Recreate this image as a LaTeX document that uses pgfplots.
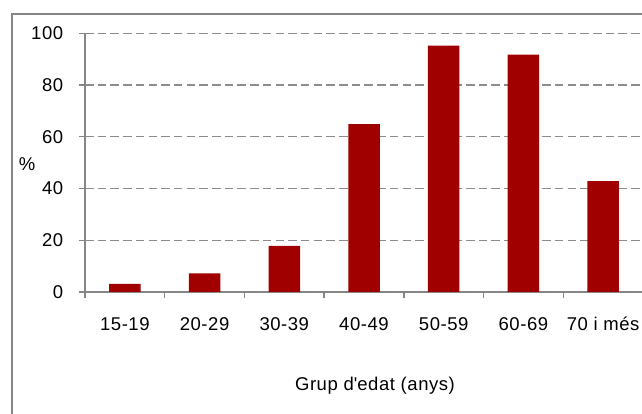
\documentclass[border=0pt]{standalone}
\usepackage{fontspec}
\setmainfont[LetterSpace=3]{Liberation Sans}
\usepackage{pgfplots}
\pgfplotsset{compat=1.18}

\definecolor{barred}{HTML}{A00000}
\definecolor{axgray}{HTML}{868686}
\definecolor{gridgray}{HTML}{8C8C8C}

\begin{document}
\begin{tikzpicture}[x=1pt,y=1pt,font=\fontsize{18.5}{21}\selectfont]
\clip (0,0) rectangle (642,414);
% chart frame (right and bottom edges fall outside the picture)
\draw[axgray, line width=1.3pt] (12,-20) -- (12,400) -- (700,400);
\begin{axis}[
  at={(85pt,122pt)}, anchor=south west,
  scale only axis,
  width=558pt, height=258.7pt,
  xmin=-0.5, xmax=6.5,
  ymin=0, ymax=100,
  ytick={0,20,...,100},
  xtick={0,...,6},
  xticklabels={15-19,20-29,30-39,40-49,50-59,60-69,70 i més},
  minor xtick={-0.5,0.5,...,6.5},
  axis x line*=bottom, axis y line*=left,
  axis line style={axgray, line width=1.3pt, -},
  tick align=outside,
  x tick style={draw=none},
  minor x tick style={draw=axgray, line width=1.3pt},
  y tick style={draw=axgray, line width=1.3pt},
  major tick length=5.6pt, minor tick length=5.6pt,
  ymajorgrids,
  major grid style={gridgray, line width=1.3pt, dash pattern=on 8.5pt off 4.2pt},
  /pgf/number format/assume math mode=true,
  yticklabel style={anchor=east, inner sep=0pt, xshift=-16pt},
  xticklabel style={anchor=north, inner sep=0pt, text height=13pt, text depth=0pt, yshift=-20pt},
  ybar, bar width=31.5pt,
]
\addplot[fill=barred, draw=none] coordinates {
(0,3.1) (1,7.2) (2,17.8) (3,64.9) (4,95.2) (5,91.8) (6,42.9)
};
\end{axis}
\node at (27,250) {\%};
\node[anchor=base] at (375,23) {Grup d\textquotesingle edat (anys)};
\end{tikzpicture}
\end{document}
